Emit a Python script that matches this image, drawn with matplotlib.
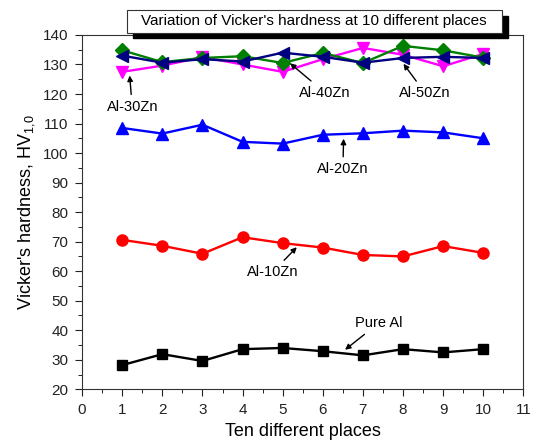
import matplotlib.pyplot as plt
from matplotlib.ticker import MultipleLocator
from matplotlib.patches import Rectangle

plt.rcParams['font.family'] = ['Liberation Sans', 'DejaVu Sans']
plt.rcParams['mathtext.fontset'] = 'custom'
plt.rcParams['mathtext.rm'] = 'Liberation Sans'

# data
places = [1, 2, 3, 4, 5, 6, 7, 8, 9, 10]
pure_al = [28.2, 31.9, 29.6, 33.6, 34.0, 32.9, 31.5, 33.6, 32.5, 33.6]
al_10zn = [70.6, 68.6, 65.9, 71.5, 69.5, 68.0, 65.5, 65.0, 68.5, 66.2]
al_20zn = [108.5, 106.6, 109.6, 103.8, 103.2, 106.2, 106.7, 107.6, 107.0, 105.0]
al_30zn = [127.5, 129.6, 132.5, 130.0, 127.5, 131.8, 135.6, 133.3, 129.4, 133.6]
al_40zn = [134.8, 130.8, 132.2, 132.8, 130.5, 133.9, 130.5, 136.3, 134.8, 132.3]
al_50zn = [133.0, 130.6, 131.8, 131.0, 134.0, 132.6, 130.6, 132.2, 132.6, 132.2]

fig = plt.figure(figsize=(5.33, 4.48), dpi=100)
ax = fig.add_axes([0.154, 0.131, 0.828, 0.791])

ax.plot(places, pure_al, color='black', marker='s', ms=7, lw=1.7)
ax.plot(places, al_10zn, color='red', marker='o', ms=8, lw=1.7)
ax.plot(places, al_20zn, color='blue', marker='^', ms=8, lw=1.7)
ax.plot(places, al_30zn, color='magenta', marker='v', ms=8, lw=1.7)
ax.plot(places, al_40zn, color='green', marker='D', ms=7, lw=1.7)
ax.plot(places, al_50zn, color='navy', marker='<', ms=8, lw=1.7)

ax.set_xlim(0, 11)
ax.set_ylim(20, 140)
ax.xaxis.set_major_locator(MultipleLocator(1))
ax.xaxis.set_minor_locator(MultipleLocator(0.5))
ax.yaxis.set_major_locator(MultipleLocator(10))
ax.yaxis.set_minor_locator(MultipleLocator(5))
ax.tick_params(which='major', direction='out', length=5, labelsize=11, colors='#222222', pad=5)
ax.tick_params(which='minor', direction='out', length=3)
for s in ax.spines.values():
    s.set_color('#333333')

ax.set_xlabel('Ten different places', fontsize=13)
ax.set_ylabel(r"Vicker's hardness, HV$_\mathregular{1{,}0}$", fontsize=13)

# annotations with arrows
arr = dict(arrowstyle='-|>', color='black', lw=1, mutation_scale=8)
ax.annotate('Al-30Zn', xy=(1.18, 127.2), xytext=(1.25, 115.6), ha='center', va='center',
            fontsize=10.5, arrowprops=arr)
ax.annotate('Al-40Zn', xy=(5.13, 131.0), xytext=(6.05, 120.5), ha='center', va='center',
            fontsize=10.5, arrowprops=arr)
ax.annotate('Al-50Zn', xy=(7.97, 131.0), xytext=(8.55, 120.3), ha='center', va='center',
            fontsize=10.5, arrowprops=arr)
ax.annotate('Al-20Zn', xy=(6.52, 105.8), xytext=(6.5, 94.5), ha='center', va='center',
            fontsize=10.5, arrowprops=arr)
ax.annotate('Al-10Zn', xy=(5.4, 68.8), xytext=(4.75, 59.7), ha='center', va='center',
            fontsize=10.5, arrowprops=arr)
ax.annotate('Pure Al', xy=(6.5, 32.8), xytext=(7.4, 42.5), ha='center', va='center',
            fontsize=10.5, arrowprops=arr)

# title box with shadow
W, H = 533, 448
def fx(px):
    return px / W
def fy(py):
    return 1 - py / H
fig.patches.append(Rectangle((fx(133), fy(38)), fx(508) - fx(133), fy(16) - fy(38),
                             transform=fig.transFigure, facecolor='black', edgecolor='black', zorder=5))
fig.patches.append(Rectangle((fx(127), fy(33)), fx(502) - fx(127), fy(10) - fy(33),
                             transform=fig.transFigure, facecolor='white', edgecolor='#333333',
                             lw=0.8, zorder=6))
fig.text(fx(314), fy(21.5), "Variation of Vicker's hardness at 10 different places",
         ha='center', va='center', fontsize=11, zorder=7)

plt.savefig('out.png', dpi=100)
